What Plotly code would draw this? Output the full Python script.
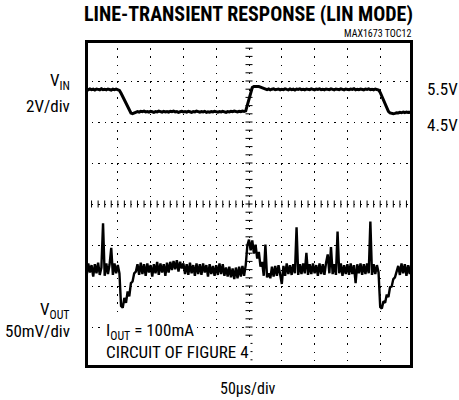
import plotly.graph_objects as go

# ---------------- data ----------------
T_STEP_US = 2.5          # sample interval (µs); 201 samples over 500 µs (10 div x 50 µs)
VIN_OFFSET_DIV = 4.02    # screen position of 0 V for the VIN channel (2 V/div)
VOUT_OFFSET_DIV = 2.39   # screen position of 0 mV (ac-coupled) for VOUT (50 mV/div)
VIN_V_PER_DIV = 2.0
VOUT_MV_PER_DIV = 50.0

vin_volts = [
    5.55, 5.58, 5.53, 5.57, 5.54, 5.56, 5.52, 5.57, 5.55, 5.53,
    5.58, 5.54, 5.56, 5.53, 5.57, 5.55, 5.52, 5.56, 5.54, 5.57,
    5.54, 5.50, 5.36, 5.20, 5.03, 4.87, 4.70, 4.53, 4.40, 4.37,
    4.41, 4.45, 4.47, 4.44, 4.48, 4.46, 4.49, 4.45, 4.47, 4.44,
    4.48, 4.46, 4.43, 4.47, 4.45, 4.49, 4.46, 4.44, 4.48, 4.45,
    4.47, 4.44, 4.48, 4.46, 4.49, 4.45, 4.47, 4.43, 4.46, 4.48,
    4.45, 4.47, 4.44, 4.48, 4.46, 4.43, 4.47, 4.45, 4.49, 4.46,
    4.44, 4.47, 4.45, 4.48, 4.43, 4.46, 4.44, 4.47, 4.45, 4.48,
    4.46, 4.44, 4.47, 4.45, 4.48, 4.46, 4.43, 4.47, 4.45, 4.48,
    4.46, 4.49, 4.47, 4.45, 4.48, 4.46, 4.49, 4.47, 4.50, 4.80,
    5.15, 5.45, 5.64, 5.69, 5.70, 5.68, 5.69, 5.66, 5.63, 5.58,
    5.56, 5.54, 5.57, 5.53, 5.56, 5.58, 5.54, 5.55, 5.57, 5.53,
    5.56, 5.54, 5.58, 5.55, 5.53, 5.57, 5.54, 5.56, 5.52, 5.57,
    5.55, 5.58, 5.54, 5.56, 5.53, 5.57, 5.55, 5.54, 5.58, 5.56,
    5.53, 5.57, 5.55, 5.58, 5.54, 5.56, 5.53, 5.57, 5.55, 5.54,
    5.58, 5.55, 5.53, 5.57, 5.56, 5.54, 5.58, 5.55, 5.53, 5.57,
    5.56, 5.54, 5.57, 5.55, 5.58, 5.53, 5.56, 5.54, 5.57, 5.55,
    5.53, 5.57, 5.55, 5.58, 5.54, 5.56, 5.53, 5.57, 5.55, 5.52,
    5.40, 5.22, 5.03, 4.84, 4.64, 4.48, 4.40, 4.37, 4.36, 4.38,
    4.41, 4.40, 4.43, 4.41, 4.44, 4.42, 4.45, 4.43, 4.44, 4.42,
    4.44,
]

vout_mv = [
    4, -7, 8, -3, 6, -8, 7, -4, 9, -6,
    3, 57, -7, 8, -5, 7, 27, -6, 8, -4,
    6, -4, -44, -46, -34, -40, -26, -32, -16, -14,
    -4, -2, 7, -6, 9, -5, 7, -7, 8, -3,
    6, -8, 7, -4, 10, -6, 8, -3, 7, -7,
    9, -3, 10, 0, 11, 1, 12, -2, 10, 2,
    8, -5, 7, -6, 9, -4, 6, -7, 8, -5,
    7, -6, 8, -3, 6, -8, 7, -5, 5, -7,
    6, -6, 8, -5, 7, -7, 3, -8, 4, -9,
    2, -11, 3, -10, 4, -8, 5, -7, 6, 30,
    37, 24, 36, 20, 31, 14, 22, 4, 10, -7,
    31, -9, -4, -10, 4, -8, 5, -7, 6, -5,
    -17, 5, -7, 8, -5, 6, -6, 7, -4, 52,
    -6, 7, -5, 8, -4, 21, -6, 7, -5, 8,
    -4, 6, -7, 8, -5, 7, -6, 9, 19, -4,
    28, -5, 7, -6, 47, -4, 8, -7, 6, -5,
    7, -6, 8, -5, 6, -16, 7, -4, 8, -6,
    7, -5, 8, -4, 59, -6, 7, -5, 6, -3,
    -45, -47, -38, -40, -30, -33, -21, -20, -11, -9,
    -2, 5, -6, 8, -4, 7, -7, 6, -5, 8,
    2,
]

# ---------------- layout constants ----------------
W, H = 459, 400
PL, PR, PT, PB = 85, 413, 40, 368          # plot area in pixels
FONT = "Liberation Sans Narrow, Arial Narrow, Roboto Condensed, DejaVu Sans Condensed, sans-serif"


def px_x(x):
    return (x - PL) / (PR - PL)


def px_y(y):
    return (PB - y) / (PB - PT)


vin_div = [VIN_OFFSET_DIV + v / VIN_V_PER_DIV for v in vin_volts]
vout_div = [VOUT_OFFSET_DIV + v / VOUT_MV_PER_DIV for v in vout_mv]

fig = go.Figure()

# centre-axis subdivision ticks (graticule)
fig.add_trace(go.Scatter(
    x=[k * 10 for k in range(51)], y=[4] * 51, mode="markers",
    marker=dict(symbol="line-ns", size=5, line=dict(color="black", width=1)),
    hoverinfo="skip", showlegend=False))
fig.add_trace(go.Scatter(
    x=[250] * 41, y=[k * 0.2 for k in range(41)], mode="markers",
    marker=dict(symbol="line-ew", size=5, line=dict(color="black", width=1)),
    hoverinfo="skip", showlegend=False))

fig.add_trace(go.Scatter(
    y=vin_div, x0=0, dx=T_STEP_US, mode="lines",
    line=dict(color="black", width=3), name="VIN", showlegend=False))
fig.add_trace(go.Scatter(
    y=vout_div, x0=0, dx=T_STEP_US, mode="lines",
    line=dict(color="black", width=2.4), name="VOUT", showlegend=False))

dx_px = (PR - PL) / 10 / 5
dy_px = (PB - PT) / 8 / 5

fig.update_xaxes(
    range=[0, 500], dtick=50, tick0=0, showgrid=True, gridcolor="black",
    gridwidth=1, griddash=f"1.5px,{dy_px - 1.5:.3f}px", zeroline=False,
    showticklabels=False, showline=False, ticks="inside", ticklen=3,
    tickcolor="black", mirror="allticks",
    minor=dict(dtick=10, ticks="inside", ticklen=3, tickcolor="black", showgrid=False),
    fixedrange=True)
fig.update_yaxes(
    range=[0, 8], dtick=1, tick0=0, showgrid=True, gridcolor="black",
    gridwidth=1, griddash=f"1.5px,{dx_px - 1.5:.3f}px", zeroline=False,
    showticklabels=False, showline=False, ticks="inside", ticklen=3,
    tickcolor="black", mirror="allticks",
    minor=dict(dtick=0.2, ticks="inside", ticklen=3, tickcolor="black", showgrid=False),
    fixedrange=True)

# frame
inset_x = 1.5 / (PR - PL)
inset_y = 1.5 / (PB - PT)
fig.add_shape(type="rect", xref="paper", yref="paper",
              x0=inset_x, x1=1 - inset_x, y0=inset_y, y1=1 - inset_y,
              line=dict(color="black", width=3))


def label(text, x, y, anchor, size=17, bg=None, bold=False, yanchor="middle"):
    fig.add_annotation(
        text=f"<b>{text}</b>" if bold else text,
        xref="paper", yref="paper", x=px_x(x), y=px_y(y),
        xanchor=anchor, yanchor=yanchor, showarrow=False,
        font=dict(family=FONT, size=size, color="black"),
        bgcolor=bg, borderpad=1)


label("LINE-TRANSIENT RESPONSE (LIN MODE)", 248, 14, "center", size=20, bold=True)
label("MAX1673 TOC12", 413, 34, "right", size=10)
label("V<sub>IN</sub>", 72, 81, "right")
label("2V/div", 72, 106, "right")
label("5.5V", 425, 89, "left")
label("4.5V", 425, 125, "left")
label("V<sub>OUT</sub>", 72, 310, "right")
label("50mV/div", 72, 331, "right")
label("I<sub>OUT</sub> = 100mA", 104, 331, "left", bg="white")
label("CIRCUIT OF FIGURE 4", 104, 352, "left", bg="white")
label("50µs/div", 248, 388, "center", size=16)

fig.update_layout(
    width=W, height=H,
    margin=dict(l=PL, r=W - PR, t=PT, b=H - PB),
    plot_bgcolor="white", paper_bgcolor="white",
    showlegend=False, hovermode=False)

fig.write_html("out.html", config={"displayModeBar": False, "staticPlot": True},
               post_script="document.body.style.margin='0px';")
